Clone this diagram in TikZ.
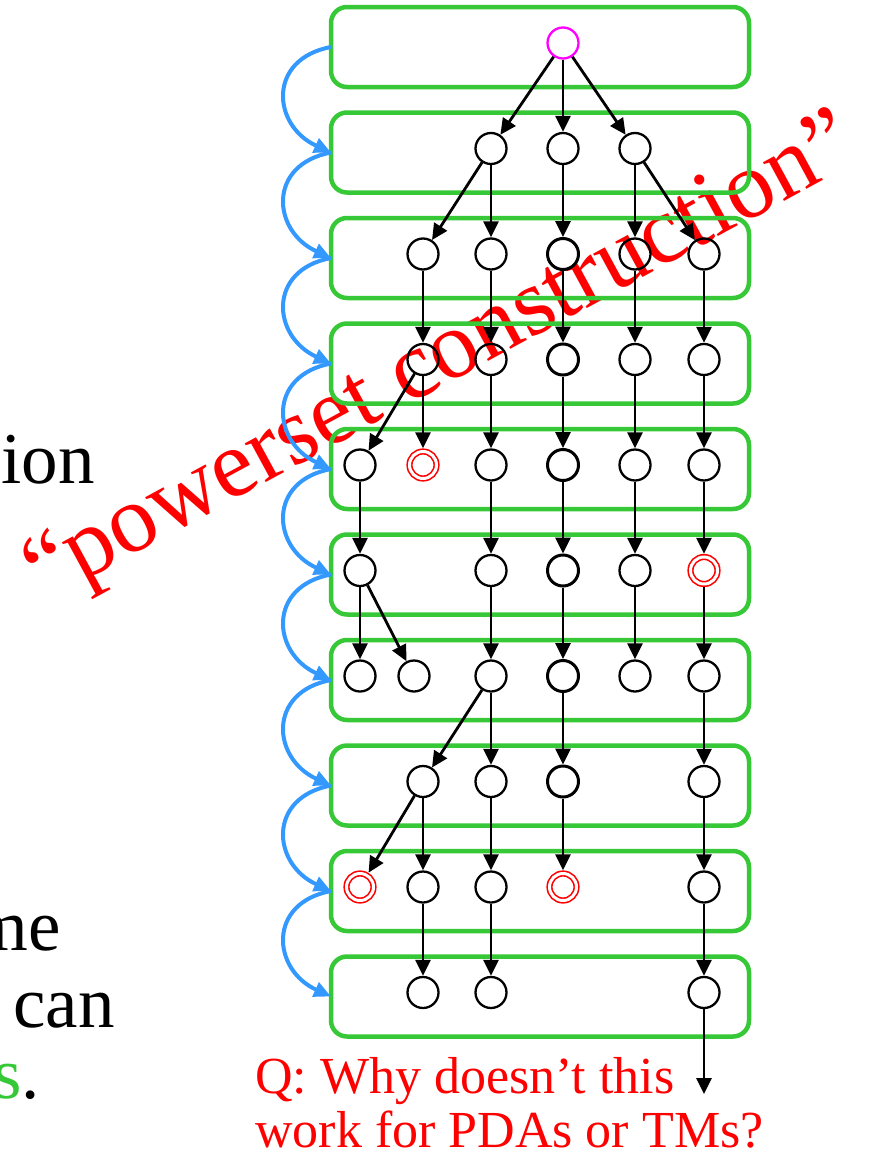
\documentclass[tikz,border=0pt]{standalone}
\usepackage{fontspec}
\setmainfont{Liberation Serif}
\usetikzlibrary{arrows.meta}
\definecolor{boxgreen}{RGB}{55,200,55}
\definecolor{arcblue}{RGB}{51,153,255}
\definecolor{startmag}{RGB}{255,0,255}
\begin{document}
\begin{tikzpicture}[x=1pt,y=-1pt,
  st/.style={circle, draw, line width=2.3pt, minimum size=31pt, inner sep=0pt},
  stk/.style={st, line width=3pt},
  startst/.style={st, draw=startmag},
  acc/.style={circle, draw=red, line width=1.6pt, double, double distance=3pt, minimum size=27pt, inner sep=0pt, outer sep=3.2pt},
  rowbox/.style={draw=boxgreen, line width=4.5pt, rounded corners=16pt, minimum width=418pt, minimum height=80pt, inner sep=0pt, outer sep=0pt},
  edge/.style={line width=2.8pt, -{Triangle[length=16pt,width=15pt]}},
  arc/.style={draw=arcblue, line width=4pt, -{Triangle[length=17pt,width=15pt]}},
  bigtxt/.style={inner sep=0pt, font=\fontsize{73}{73}\selectfont},
  qtxt/.style={inner sep=0pt, text=red, font=\fontsize{52}{52}\selectfont, anchor=base west}
]
\useasboundingbox (0,0) rectangle (891,1151);
\fill[white] (0,0) rectangle (891,1151);

% rotated label (under the diagram)
\node[text=red, rotate=28.5, anchor=base, inner sep=0pt, font=\fontsize{96}{96}\selectfont] (ps) at (453,381) {“powerset construction”};

% left text fragments
\node[bigtxt, anchor=base east] (t1) at (95,483) {ion};
\node[bigtxt, anchor=base east] (t2) at (61,950) {me};
\node[bigtxt, anchor=base east] (t3) at (115,1027) {can};
\node[bigtxt, anchor=base east] (t4) at (40,1098) {\textcolor{boxgreen}{s}.};

% question
\node[qtxt] (q1) at (255,1093) {Q: Why doesn’t this};
\node[qtxt] (q2) at (255,1147) {work for PDAs or TMs?};

% row boxes
\node[rowbox] (b1) at (540,47) {};
\node[rowbox] (b2) at (540,152.5) {};
\node[rowbox] (b3) at (540,258) {};
\node[rowbox] (b4) at (540,363.5) {};
\node[rowbox] (b5) at (540,469) {};
\node[rowbox] (b6) at (540,574.5) {};
\node[rowbox] (b7) at (540,680) {};
\node[rowbox] (b8) at (540,785.5) {};
\node[rowbox] (b9) at (540,891) {};
\node[rowbox] (b10) at (540,996.5) {};

% blue arcs between rows
\foreach \i/\j in {1/2,2/3,3/4,4/5,5/6,6/7,7/8,8/9,9/10}
  \draw[arc] (b\i.west) .. controls +(-64,12) and +(-59,-27) .. (b\j.west);

% row 1
\node[startst] (r1d) at (563,43) {};
% row 2
\node[st] (r2c) at (491,148.5) {};
\node[st] (r2d) at (563,148.5) {};
\node[st] (r2e) at (635,148.5) {};
% row 3
\node[st] (r3b) at (423,254) {};
\node[st] (r3c) at (491,254) {};
\node[stk] (r3d) at (563,254) {};
\node[st] (r3e) at (635,254) {};
\node[st] (r3f) at (704,254) {};
% row 4
\node[st] (r4b) at (423,359.5) {};
\node[st] (r4c) at (491,359.5) {};
\node[stk] (r4d) at (563,359.5) {};
\node[st] (r4e) at (635,359.5) {};
\node[st] (r4f) at (704,359.5) {};
% row 5
\node[st] (r5a) at (360,465) {};
\node[acc] (r5b) at (423,465) {};
\node[st] (r5c) at (491,465) {};
\node[stk] (r5d) at (563,465) {};
\node[st] (r5e) at (635,465) {};
\node[st] (r5f) at (704,465) {};
% row 6
\node[st] (r6a) at (360,570.5) {};
\node[st] (r6c) at (491,570.5) {};
\node[stk] (r6d) at (563,570.5) {};
\node[st] (r6e) at (635,570.5) {};
\node[acc] (r6f) at (704,570.5) {};
% row 7
\node[st] (r7a) at (360,676) {};
\node[st] (r7b) at (414,676) {};
\node[st] (r7c) at (491,676) {};
\node[stk] (r7d) at (563,676) {};
\node[st] (r7e) at (635,676) {};
\node[st] (r7f) at (704,676) {};
% row 8
\node[st] (r8b) at (423,781.5) {};
\node[st] (r8c) at (491,781.5) {};
\node[stk] (r8d) at (563,781.5) {};
\node[st] (r8f) at (704,781.5) {};
% row 9
\node[acc] (r9a) at (360,887) {};
\node[st] (r9b) at (423,887) {};
\node[st] (r9c) at (491,887) {};
\node[acc] (r9d) at (563,887) {};
\node[st] (r9f) at (704,887) {};
% row 10
\node[st] (r10b) at (423,992.5) {};
\node[st] (r10c) at (491,992.5) {};
\node[st] (r10f) at (704,992.5) {};
\coordinate (tail) at (704,1094);

% transitions
\draw[edge] (r1d) -- (r2c);
\draw[edge] (r1d) -- (r2d);
\draw[edge] (r1d) -- (r2e);
\draw[edge] (r2c) -- (r3b);
\draw[edge] (r2c) -- (r3c);
\draw[edge] (r2d) -- (r3d);
\draw[edge] (r2e) -- (r3e);
\draw[edge] (r2e) -- (r3f);
\draw[edge] (r3b) -- (r4b);
\draw[edge] (r3c) -- (r4c);
\draw[edge] (r3d) -- (r4d);
\draw[edge] (r3e) -- (r4e);
\draw[edge] (r3f) -- (r4f);
\draw[edge] (r4b) -- (r5a);
\draw[edge] (r4b) -- (r5b);
\draw[edge] (r4c) -- (r5c);
\draw[edge] (r4d) -- (r5d);
\draw[edge] (r4e) -- (r5e);
\draw[edge] (r4f) -- (r5f);
\draw[edge] (r5a) -- (r6a);
\draw[edge] (r5c) -- (r6c);
\draw[edge] (r5d) -- (r6d);
\draw[edge] (r5e) -- (r6e);
\draw[edge] (r5f) -- (r6f);
\draw[edge] (r6a) -- (r7a);
\draw[edge] (r6a) -- (r7b);
\draw[edge] (r6c) -- (r7c);
\draw[edge] (r6d) -- (r7d);
\draw[edge] (r6e) -- (r7e);
\draw[edge] (r6f) -- (r7f);
\draw[edge] (r7c) -- (r8b);
\draw[edge] (r7c) -- (r8c);
\draw[edge] (r7d) -- (r8d);
\draw[edge] (r7f) -- (r8f);
\draw[edge] (r8b) -- (r9a);
\draw[edge] (r8b) -- (r9b);
\draw[edge] (r8c) -- (r9c);
\draw[edge] (r8d) -- (r9d);
\draw[edge] (r8f) -- (r9f);
\draw[edge] (r9b) -- (r10b);
\draw[edge] (r9c) -- (r10c);
\draw[edge] (r9f) -- (r10f);
\draw[edge] (r10f) -- (tail);
\end{tikzpicture}
\end{document}
